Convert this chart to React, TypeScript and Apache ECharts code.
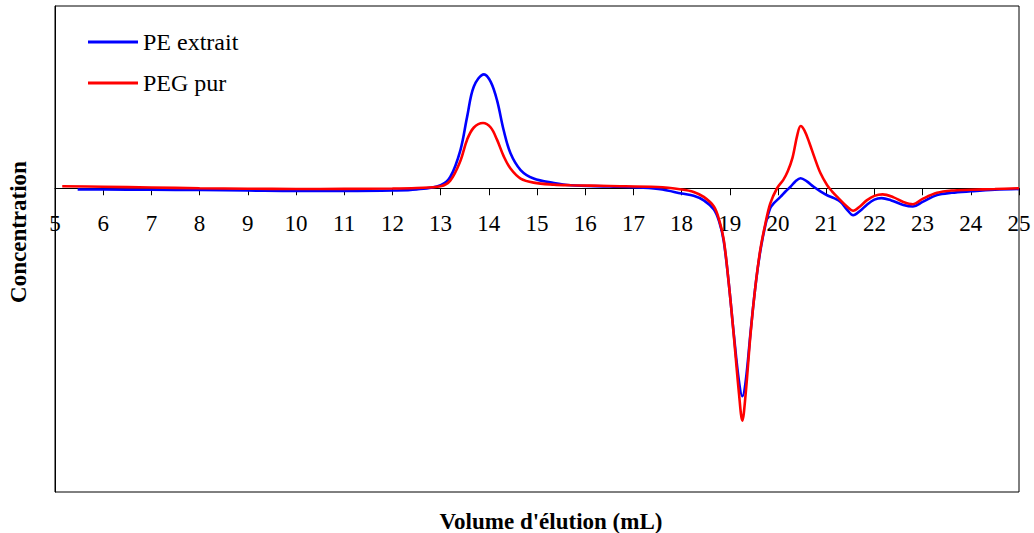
import React, { useEffect, useRef } from "react";
import * as echarts from "echarts";

const seriesNames = ["PE extrait", "PEG pur"];
const seriesColors = ["#0000ff", "#ff0000"];
const xTitle = "Volume d'élution (mL)";
const yTitle = "Concentration";

// [volume (mL), concentration]
const peExtrait: [number, number][] = [
  [5.47, -0.008], [6, -0.008], [7, -0.01], [8, -0.012], [9, -0.015], [10, -0.018],
  [11, -0.018], [12, -0.015], [12.5, -0.008], [13.0, 0.02], [13.2, 0.074],
  [13.41, 0.25], [13.55, 0.47], [13.69, 0.67], [13.9, 0.75], [14.04, 0.7],
  [14.17, 0.58], [14.31, 0.38], [14.45, 0.23], [14.66, 0.12], [14.93, 0.064],
  [15.35, 0.035], [15.7, 0.02], [16.5, 0.012], [17.2, 0.004], [17.6, -0.008],
  [18.0, -0.035], [18.25, -0.05], [18.46, -0.08], [18.67, -0.14], [18.78, -0.22],
  [18.875, -0.35], [18.98, -0.63], [19.08, -0.95], [19.19, -1.27], [19.26, -1.37],
  [19.33, -1.27], [19.43, -0.95], [19.53, -0.65], [19.63, -0.42], [19.74, -0.24],
  [19.84, -0.13], [19.91, -0.1], [20.05, -0.057], [20.16, -0.02], [20.26, 0.01],
  [20.36, 0.045], [20.47, 0.066], [20.6, 0.045], [20.74, 0.01], [20.88, -0.02],
  [21.02, -0.046], [21.16, -0.065], [21.3, -0.09], [21.43, -0.14], [21.56, -0.178],
  [21.7, -0.15], [21.84, -0.11], [22.0, -0.075], [22.15, -0.065], [22.35, -0.08],
  [22.6, -0.11], [22.8, -0.12], [23.0, -0.09], [23.3, -0.045], [23.6, -0.03],
  [24.0, -0.02], [24.5, -0.01], [25.0, -0.005],
];

const pegPur: [number, number][] = [
  [5.15, 0.013], [6, 0.01], [7, 0.005], [8, 0.0], [9, -0.003], [10, -0.005],
  [11, -0.004], [12, -0.002], [12.5, 0.002], [13.0, 0.013], [13.2, 0.05],
  [13.41, 0.18], [13.55, 0.32], [13.69, 0.4], [13.88, 0.43], [14.04, 0.4],
  [14.17, 0.32], [14.31, 0.21], [14.45, 0.13], [14.66, 0.064], [14.93, 0.037],
  [15.35, 0.024], [15.7, 0.02], [16.5, 0.015], [17.5, 0.008], [18.0, -0.008],
  [18.25, -0.024], [18.46, -0.057], [18.67, -0.12], [18.78, -0.21], [18.875, -0.34],
  [18.98, -0.63], [19.08, -0.96], [19.19, -1.35], [19.26, -1.53], [19.33, -1.35],
  [19.43, -0.96], [19.53, -0.65], [19.63, -0.41], [19.74, -0.23], [19.84, -0.1],
  [19.98, 0.0], [20.11, 0.055], [20.2, 0.11], [20.3, 0.2], [20.4, 0.35],
  [20.47, 0.41], [20.55, 0.38], [20.65, 0.3], [20.76, 0.2], [20.88, 0.1],
  [21.02, 0.02], [21.12, -0.02], [21.23, -0.057], [21.43, -0.12], [21.56, -0.148],
  [21.7, -0.12], [21.84, -0.08], [22.0, -0.05], [22.17, -0.04], [22.4, -0.06],
  [22.6, -0.09], [22.8, -0.105], [23.0, -0.07], [23.3, -0.03], [23.6, -0.015],
  [24.0, -0.01], [24.5, -0.005], [25.0, 0.0],
];

const FONT = "Liberation Serif";
const Y_MIN = -2;
const Y_MAX = 1.2;
const GRID_TOP = 6;
const GRID_BOTTOM = 41;
const H = 533;

export default function App() {
  const ref = useRef<HTMLDivElement>(null);
  useEffect(() => {
    if (!ref.current) return;
    const chart = echarts.init(ref.current, undefined, { renderer: "svg" });
    const plotH = H - GRID_TOP - GRID_BOTTOM;
    const zeroOffset = -(plotH * (0 - Y_MIN)) / (Y_MAX - Y_MIN);
    const legendItems = seriesNames.map((name, i) => ({
      type: "group",
      x: 88,
      y: 42 + i * 41,
      children: [
        {
          type: "line",
          shape: { x1: 0, y1: 0, x2: 50, y2: 0 },
          style: { stroke: seriesColors[i], lineWidth: 3 },
        },
        {
          type: "text",
          x: 55,
          y: 0,
          style: {
            text: name,
            fontFamily: FONT,
            fontSize: 24,
            fill: "#000",
            textAlign: "left",
            textVerticalAlign: "middle",
          },
        },
      ],
    }));
    chart.setOption({
      animation: false,
      backgroundColor: "#fff",
      textStyle: { fontFamily: FONT, color: "#000" },
      grid: {
        left: 55,
        top: GRID_TOP,
        right: 15,
        bottom: GRID_BOTTOM,
        show: true,
        borderColor: "#000",
        borderWidth: 1,
        outerBoundsMode: "none",
        containLabel: false,
      },
      legend: { show: false, data: seriesNames },
      xAxis: {
        type: "value",
        min: 5,
        max: 25,
        interval: 1,
        position: "bottom",
        offset: zeroOffset,
        axisLine: { onZero: false, lineStyle: { color: "#000", width: 1 } },
        axisTick: { show: true, length: 7, lineStyle: { color: "#000" } },
        axisLabel: {
          margin: 24,
          fontFamily: FONT,
          fontSize: 23,
          color: "#000",
          showMinLabel: true,
          showMaxLabel: true,
        },
        splitLine: { show: false },
      },
      yAxis: {
        type: "value",
        min: Y_MIN,
        max: Y_MAX,
        axisLine: { show: true, onZero: false, lineStyle: { color: "#000", width: 1 } },
        axisTick: { show: false },
        axisLabel: { show: false },
        splitLine: { show: false },
      },
      graphic: [
        ...legendItems,
        {
          type: "text",
          x: 18,
          y: 232,
          rotation: Math.PI / 2,
          style: {
            text: yTitle,
            fontFamily: FONT,
            fontSize: 23,
            fontWeight: "bold",
            fill: "#000",
            textAlign: "center",
            textVerticalAlign: "middle",
          },
        },
        {
          type: "text",
          x: 551,
          y: 521,
          style: {
            text: xTitle,
            fontFamily: FONT,
            fontSize: 23,
            fontWeight: "bold",
            fill: "#000",
            textAlign: "center",
            textVerticalAlign: "middle",
          },
        },
      ],
      series: [
        {
          name: seriesNames[0],
          type: "line",
          data: peExtrait,
          showSymbol: false,
          smooth: 0.35,
          lineStyle: { color: seriesColors[0], width: 2.6 },
          itemStyle: { color: seriesColors[0] },
        },
        {
          name: seriesNames[1],
          type: "line",
          data: pegPur,
          showSymbol: false,
          smooth: 0.35,
          lineStyle: { color: seriesColors[1], width: 2.6 },
          itemStyle: { color: seriesColors[1] },
        },
      ],
    });
    return () => chart.dispose();
  }, []);
  return (
    <div
      ref={ref}
      style={{ position: "fixed", left: 0, top: 0, width: 1034, height: 533 }}
    />
  );
}
